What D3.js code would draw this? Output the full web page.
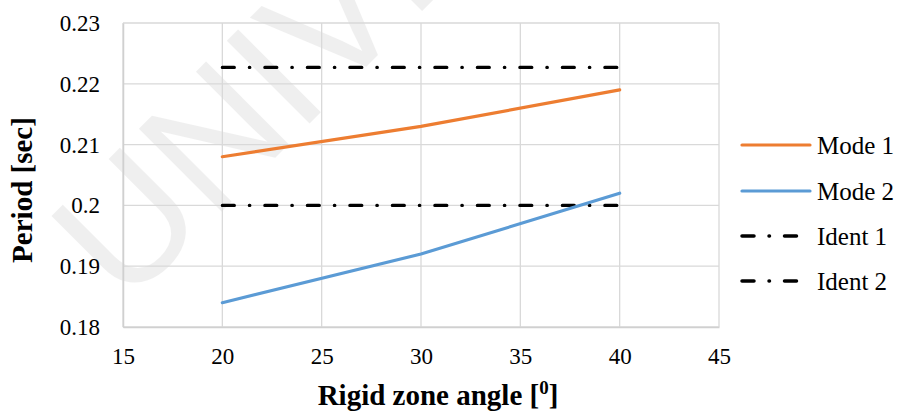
<!DOCTYPE html>
<html>
<head>
<meta charset="utf-8">
<script src="https://cdn.jsdelivr.net/npm/d3@7"></script>
<style>
  body { margin: 0; background: #fff; }
  svg { display: block; }
  svg text { font-family: "Liberation Serif", "Times New Roman", serif; }
</style>
</head>
<body>
<svg id="chart" width="901" height="412"></svg>
<script>
// values
const angles = [20, 30, 40];
const mode1 = [0.208, 0.213, 0.219];
const mode2 = [0.184, 0.192, 0.202];
const ident1 = [0.2227, 0.2227, 0.2227];
const ident2 = [0.200, 0.200, 0.200];
const seriesNames = ['Mode 1', 'Mode 2', 'Ident 1', 'Ident 2'];
const xTicks = [15, 20, 25, 30, 35, 40, 45];
const yTicks = [0.18, 0.19, 0.2, 0.21, 0.22, 0.23];

const serif = '"Liberation Serif", "Times New Roman", serif';
const svg = d3.select('#chart');

// faint watermark behind the chart
svg.append('text')
    .attr('transform', 'translate(125,308) rotate(-45)')
    .style('font-family', '"Liberation Sans", Arial, sans-serif')
    .style('font-size', '170px')
    .attr('fill', '#000')
    .attr('opacity', 0.06)
    .text('UNIVE');

const plot = {left: 123, right: 719, top: 23, bottom: 327};

const x = d3.scaleLinear().domain([15, 45]).range([plot.left, plot.right]);
const y = d3.scaleLinear().domain([0.18, 0.23]).range([plot.bottom, plot.top]);

const grid = svg.append('g');

grid.selectAll('.vgrid')
    .data(xTicks)
    .join('line')
    .attr('x1', d => x(d)).attr('x2', d => x(d))
    .attr('y1', plot.top).attr('y2', plot.bottom)
    .attr('stroke', '#d9d9d9')
    .attr('stroke-width', 1.3);

grid.selectAll('.hgrid')
    .data(yTicks)
    .join('line')
    .attr('x1', plot.left).attr('x2', plot.right)
    .attr('y1', d => y(d)).attr('y2', d => y(d))
    .attr('stroke', '#d9d9d9')
    .attr('stroke-width', 1.3);

// axes (labels only, lines drawn by grid)
const xAxis = svg.append('g')
    .attr('transform', 'translate(0,' + plot.bottom + ')')
    .call(d3.axisBottom(x).tickValues(xTicks).tickSize(0).tickPadding(21));
const yAxis = svg.append('g')
    .attr('transform', 'translate(' + plot.left + ',0)')
    .call(d3.axisLeft(y).tickValues(yTicks).tickSize(0).tickPadding(23).tickFormat(d3.format('')));

[xAxis, yAxis].forEach(a => {
    a.attr('font-family', serif).attr('font-size', 23);
    a.select('.domain').attr('stroke', '#d0d0d0').attr('stroke-width', 1.5);
    a.selectAll('text')
        .style('font-family', serif)
        .style('font-size', '23px')
        .attr('fill', '#000');
});
yAxis.selectAll('text').attr('dy', '0.33em');

const dashDot = '12,15,0.5,15';

const series = [
    {name: seriesNames[0], values: mode1, color: '#ED7D31', dash: null},
    {name: seriesNames[1], values: mode2, color: '#5B9BD5', dash: null},
    {name: seriesNames[2], values: ident1, color: '#000', dash: dashDot},
    {name: seriesNames[3], values: ident2, color: '#000', dash: dashDot}
];

const line = d3.line()
    .x((d, i) => x(angles[i]))
    .y(d => y(d));

svg.append('g').selectAll('path')
    .data(series.slice().reverse())
    .join('path')
    .attr('d', d => line(d.values))
    .attr('fill', 'none')
    .attr('stroke', d => d.color)
    .attr('stroke-width', 3.2)
    .attr('stroke-linecap', 'round')
    .attr('stroke-dasharray', d => d.dash);

// legend
const legend = svg.append('g');
const legY = [145, 191, 236, 281];
series.forEach((s, i) => {
    legend.append('line')
        .attr('x1', 742).attr('x2', s.dash ? 800 : 810)
        .attr('y1', legY[i]).attr('y2', legY[i])
        .attr('stroke', s.color)
        .attr('stroke-width', s.dash ? 3.5 : 3.2)
        .attr('stroke-linecap', 'round')
        .attr('stroke-dasharray', s.dash);
    legend.append('text')
        .attr('x', 817)
        .attr('y', legY[i] + 9)
        .style('font-family', serif)
        .style('font-size', '25px')
        .text(s.name);
});

// axis titles
const xTitle = svg.append('text')
    .attr('x', 438)
    .attr('y', 405)
    .attr('text-anchor', 'middle')
    .style('font-family', serif)
    .style('font-size', '29px')
    .style('font-weight', 'bold');
xTitle.append('tspan').text('Rigid zone angle [');
xTitle.append('tspan').attr('dy', -11).style('font-size', '19px').text('0');
xTitle.append('tspan').attr('dy', 11).text(']');

svg.append('text')
    .attr('transform', 'translate(32,190) rotate(-90)')
    .attr('text-anchor', 'middle')
    .style('font-family', serif)
    .style('font-size', '29px')
    .style('font-weight', 'bold')
    .text('Period [sec]');
</script>
</body>
</html>
